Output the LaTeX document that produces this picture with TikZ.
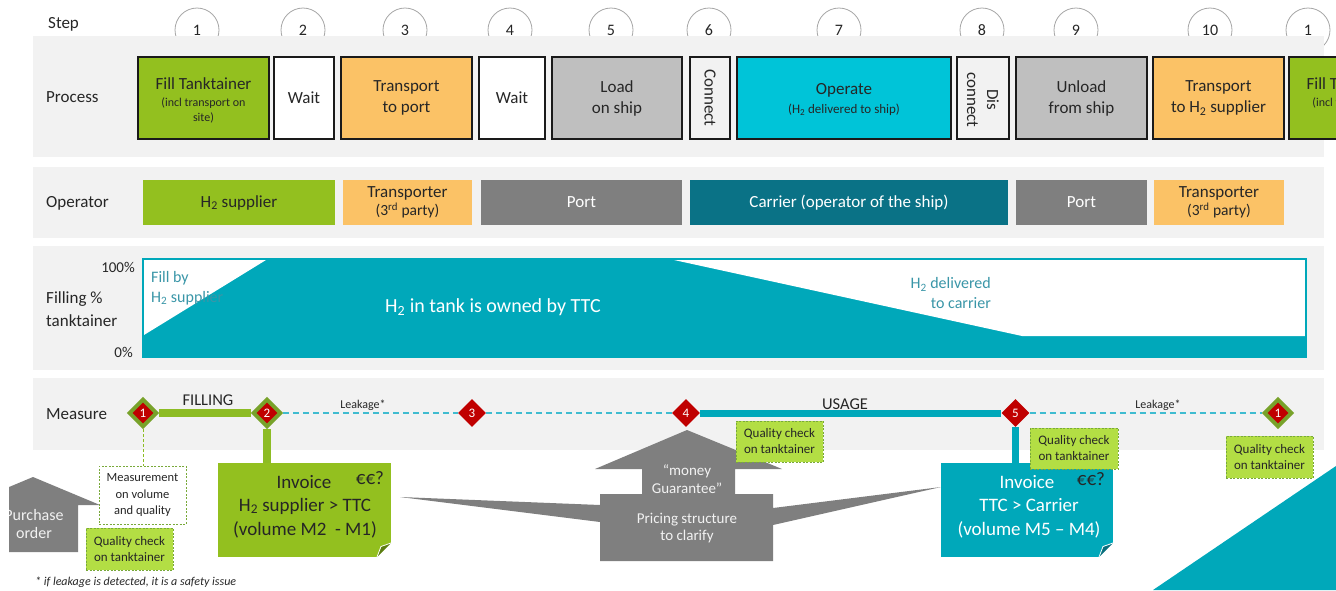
\documentclass[tikz,border=0pt]{standalone}
\usepackage{fontspec}
\setmainfont{Carlito}
\usetikzlibrary{shapes.geometric}
\pgfdeclarelayer{bands}
\pgfdeclarelayer{lines}
\pgfsetlayers{bands,lines,main}
\definecolor{bandgray}{HTML}{F2F2F2}
\definecolor{txt}{HTML}{262626}
\definecolor{boxline}{HTML}{1A1A1A}
\definecolor{fgreen}{HTML}{93C01F}
\definecolor{forange}{HTML}{FBC266}
\definecolor{boxgray}{HTML}{BFBFBF}
\definecolor{opcyan}{HTML}{00C4D8}
\definecolor{pgray}{HTML}{7F7F7F}
\definecolor{cteal}{HTML}{0A7286}
\definecolor{tteal}{HTML}{00A8BA}
\definecolor{tealtxt}{HTML}{3A96A8}
\definecolor{circgray}{HTML}{A6A6A6}
\definecolor{diagreen}{HTML}{78A22A}
\definecolor{diared}{HTML}{C00000}
\definecolor{lgreen}{HTML}{8DBC24}
\definecolor{dcyan}{HTML}{40BCD0}
\definecolor{qcfill}{HTML}{B3DE44}
\definecolor{qcdraw}{HTML}{79A93A}
\definecolor{foldgreen}{HTML}{5C7D12}
\definecolor{foldteal}{HTML}{0A6E7C}
\newcommand\fsz[2]{\fontsize{#1}{#2}\selectfont}
\begin{document}
\begin{tikzpicture}[x=1pt,y=-1pt,
  lbl/.style={font=\fsz{17}{20}, text=txt, anchor=west, inner sep=0pt},
  stepc/.style={circle, draw=circgray, fill=white, line width=0.8pt, minimum size=44pt, inner sep=0pt, font=\fsz{16}{18}, text=txt},
  pbox/.style={draw=boxline, line width=1.5pt, minimum height=82pt, inner sep=0pt, align=center, font=\fsz{17}{21}, text=txt},
  ptxt/.style={inner sep=0pt, align=center, font=\fsz{17}{21}, text=txt},
  smalltxt/.style={inner sep=0pt, align=center, font=\fsz{12}{15}, text=txt},
  obox/.style={minimum height=45pt, inner sep=0pt, align=center, font=\fsz{17}{20}},
  gdia/.style={diamond, fill=diagreen, minimum size=32.5pt, inner sep=0pt},
  rdia/.style={diamond, fill=diared, minimum size=21pt, inner sep=0pt, text=white, font=\fsz{13}{13}},
  rdiab/.style={rdia, minimum size=28pt},
  qc/.style={fill=qcfill, draw=qcdraw, dash pattern=on 2pt off 1.5pt, line width=1pt, inner sep=0pt, align=center, font=\fsz{13}{16}, text=txt},
  fillline/.style={lgreen, line width=8pt},
  useline/.style={tteal, line width=7pt},
  leakline/.style={dcyan, line width=1.5pt, dash pattern=on 6pt off 4pt},
  invtxt/.style={inner sep=0pt, align=center, font=\fsz{19}{24}},
  tealnote/.style={inner sep=0pt, font=\fsz{16}{20}, text=tealtxt},
  graytxt/.style={inner sep=0pt, align=center, font=\fsz{15}{17.5}, text=bandgray}
]
\useasboundingbox (0,0) rectangle (1336,590);

% ---------- bands and step circles ----------
\begin{pgfonlayer}{bands}
\foreach \x/\n [count=\i] in {197/1,303/2,405/3,510/4,611/5,709/6,839/7,982/8,1076/9,1210/10,1308/1}
  \node[stepc] (s\i) at (\x,30) {\n};
\fill[bandgray] (33,36) rectangle (1324,157);
\fill[bandgray] (33,167) rectangle (1324,238);
\fill[bandgray] (33,246) rectangle (1324,370);
\fill[bandgray] (33,378) rectangle (1324,450);
\end{pgfonlayer}

\node[lbl] (lstep) at (48,24) {Step};
\node[lbl] (lproc) at (46,97) {Process};
\node[lbl] (lop) at (46,203) {Operator};
\node[lbl, align=left, font=\fsz{17}{23}] (lfill) at (46,309) {Filling \%\\tanktainer};
\node[lbl] (lmeas) at (46,414) {Measure};

% ---------- process row ----------
\node[pbox, fill=fgreen, minimum width=131pt] (p1) at (203.5,98) {};
\node[ptxt] (p1a) at (203.5,84) {Fill Tanktainer};
\node[smalltxt] (p1b) at (203.5,110) {(incl transport on\\site)};
\node[pbox, fill=white, minimum width=60pt] (p2) at (304,98) {Wait};
\node[pbox, fill=forange, minimum width=131pt] (p3) at (406.5,98) {Transport\\to port};
\node[pbox, fill=white, minimum width=66pt] (p4) at (512,98) {Wait};
\node[pbox, fill=boxgray, minimum width=130pt] (p5) at (617,98) {Load\\on ship};
\node[pbox, fill=bandgray, minimum width=40pt] (p6) at (710,98) {};
\node[ptxt, rotate=-90] (p6t) at (710,98) {Connect};
\node[pbox, fill=opcyan, minimum width=214pt] (p7) at (844,98) {};
\node[ptxt] (p7a) at (844,90) {Operate};
\node[smalltxt, font=\fsz{13}{15}] (p7b) at (844,110) {(H\textsubscript{2} delivered to ship)};
\node[pbox, fill=bandgray, minimum width=52pt] (p8) at (983,98) {};
\node[ptxt, rotate=-90, font=\fsz{17}{20}] (p8t) at (983,100) {Dis\\connect};
\node[pbox, fill=boxgray, minimum width=131pt] (p9) at (1081.5,98) {Unload\\from ship};
\node[pbox, fill=forange, minimum width=131pt] (p10) at (1218.5,98) {Transport\\to H\textsubscript{2} supplier};
\begin{scope}
\clip (1288,50) rectangle (1336,146);
\node[pbox, fill=fgreen, minimum width=131pt] (p11) at (1354.5,98) {};
\node[ptxt] (p11a) at (1354.5,84) {Fill Tanktainer};
\node[smalltxt] (p11b) at (1354.5,110) {(incl transport on\\site)};
\end{scope}

% ---------- operator row ----------
\node[obox, fill=fgreen, minimum width=192pt, text=txt] (o1) at (239,202.5) {H\textsubscript{2} supplier};
\node[obox, fill=forange, minimum width=129pt, text=txt] (o2) at (407.5,202.5) {\raisebox{-2pt}{Transporter}\\{\fsz{15.5}{20}(3\textsuperscript{rd} party)}};
\node[obox, fill=pgray, minimum width=201pt, text=white] (o3) at (581.5,202.5) {Port};
\node[obox, fill=cteal, minimum width=318pt, text=white] (o4) at (849,202.5) {Carrier (operator of the ship)};
\node[obox, fill=pgray, minimum width=131pt, text=white] (o5) at (1081.5,202.5) {Port};
\node[obox, fill=forange, minimum width=130pt, text=txt] (o6) at (1219,202.5) {\raisebox{-2pt}{Transporter}\\{\fsz{15.5}{20}(3\textsuperscript{rd} party)}};

% ---------- filling chart ----------
\fill[tteal] (143,259) rectangle (1306,357);
\fill[white] (144,260) -- (266,260) -- (144,335) -- cycle;
\fill[white] (674,260) -- (1022,336) -- (1305,336) -- (1305,260) -- cycle;
\draw[tteal, line width=1.2pt] (143,259) rectangle (1306,357);
\node[inner sep=0pt, anchor=east, font=\fsz{15}{17}, text=txt] (l100) at (135,267) {100\%};
\node[inner sep=0pt, anchor=east, font=\fsz{15}{17}, text=txt] (l0) at (133,352) {0\%};
\node[tealnote, anchor=west, align=left] (fillby) at (151,288) {Fill by\\H\textsubscript{2} supplier};
\node[inner sep=0pt, font=\fsz{20}{24}, text=white] (owned) at (493,307) {H\textsubscript{2} in tank is owned by TTC};
\node[tealnote, anchor=east, align=right] (deliv) at (991,293) {H\textsubscript{2} delivered\\to carrier};

% ---------- measure row ----------
\node[gdia] (m1) at (143,413) {};
\node[rdia] (m1n) at (143,413) {1};
\node[gdia] (m2) at (267,413) {};
\node[rdia] (m2n) at (267,413) {2};
\node[rdiab] (m3) at (472,413) {3};
\node[rdiab] (m4) at (686,413) {4};
\node[rdiab] (m5) at (1015.5,413) {5};
\node[gdia] (m6) at (1278,413) {};
\node[rdia] (m6n) at (1278,413) {1};
\node[inner sep=0pt, font=\fsz{16.5}{18}, text=txt] (tfill) at (208,400) {FILLING};
\node[inner sep=0pt, font=\fsz{16.5}{18}, text=txt] (tuse) at (845,404) {USAGE};
\node[inner sep=0pt, font=\fsz{12}{14}, text=txt] (leak1) at (363,405) {Leakage*};
\node[inner sep=0pt, font=\fsz{12}{14}, text=txt] (leak2) at (1158,405) {Leakage*};

% ---------- bottom area ----------
\begin{scope}
\clip (9,400) rectangle (200,590);
\fill[pgray] (-12,552) -- (-12,505) -- (-34,505) -- (33,477) -- (100,505) -- (78,505) -- (78,552) -- cycle;
\node[inner sep=0pt, align=center, font=\fsz{16}{18}, text=bandgray] (po) at (34,524) {Purchase\\order};
\end{scope}
\node[draw=qcdraw, fill=white, dash pattern=on 2pt off 1.5pt, line width=1pt, minimum width=87pt, minimum height=58pt, inner sep=0pt, align=center, font=\fsz{12.5}{16.5}, text=txt] (meas) at (142.5,495) {Measurement\\on volume\\and quality};
\node[qc, minimum width=87pt, minimum height=42pt] (qc1) at (129.5,549) {Quality check\\on tanktainer};

\fill[pgray] (400,497) -- (600,505) -- (600,494) -- (642,494) -- (642,469) -- (595,469) -- (687,430) -- (782,469) -- (735,469) -- (735,494) -- (773,494) -- (773,508) -- (941,487) -- (773,525) -- (773,561) -- (600,561) -- (600,522) -- cycle;
\node[graytxt] (money) at (687,479) {“money\\Guarantee”};
\node[graytxt] (pricing) at (687,528) {Pricing structure\\to clarify};

\node[fill=fgreen, minimum width=173pt, minimum height=94pt, inner sep=0pt] (inv1) at (304.5,510) {};
\fill[white] (391.5,542) -- (391.5,558) -- (376,558) -- cycle;
\fill[foldgreen] (377,557) -- (381,546.5) -- (391,543) -- cycle;
\draw[white, line width=0.8pt] (377,557) -- (381,546.5) -- (391,543);
\node[invtxt, text=txt] (inv1a) at (304,482) {Invoice};
\node[invtxt, text=txt] (inv1e) at (370,478) {€€?};
\node[invtxt, text=txt] (inv1b) at (305,518) {H\textsubscript{2} supplier > TTC\\(volume M2\ \ - M1)};

\node[fill=tteal, minimum width=172pt, minimum height=94pt, inner sep=0pt] (inv2) at (1027,510) {};
\fill[white] (1113.5,542) -- (1113.5,558) -- (1098,558) -- cycle;
\fill[foldteal] (1099,557) -- (1103,546.5) -- (1113,543) -- cycle;
\draw[white, line width=0.8pt] (1099,557) -- (1103,546.5) -- (1113,543);
\node[invtxt, text=white] (inv2a) at (1027,482) {Invoice};
\node[invtxt, text=txt] (inv2e) at (1091,479) {€€?};
\node[invtxt, text=white] (inv2b) at (1029,518) {TTC > Carrier\\(volume M5 – M4)};

\node[qc, minimum width=87pt, minimum height=41pt] (qc2) at (779.5,441.5) {Quality check\\on tanktainer};
\node[qc, minimum width=88pt, minimum height=41pt] (qc3) at (1074,448.5) {Quality check\\on tanktainer};
\node[qc, minimum width=87pt, minimum height=42pt] (qc4) at (1269.5,457) {Quality check\\on tanktainer};

\fill[tteal] (1153,590) -- (1336,590) -- (1336,466) -- cycle;

\node[inner sep=0pt, anchor=west, font=\fsz{12}{14}\itshape, text=txt] (foot) at (35,582) {* if leakage is detected, it is a safety issue};

% ---------- connectors ----------
\begin{pgfonlayer}{lines}
\draw[fillline] (m1) -- (m2);
\draw[fillline] (m2) -- (m2 |- inv1.north);
\draw[leakline] (m2) -- (m3);
\draw[leakline] (m3) -- (m4);
\draw[useline] (m4) -- (m5);
\draw[useline] (m5) -- (m5 |- inv2.north);
\draw[leakline] (m5) -- (m6);
\draw[lgreen, line width=1pt, dash pattern=on 3pt off 2pt] (m1) -- (m1 |- meas.north);
\end{pgfonlayer}
\end{tikzpicture}
\end{document}
